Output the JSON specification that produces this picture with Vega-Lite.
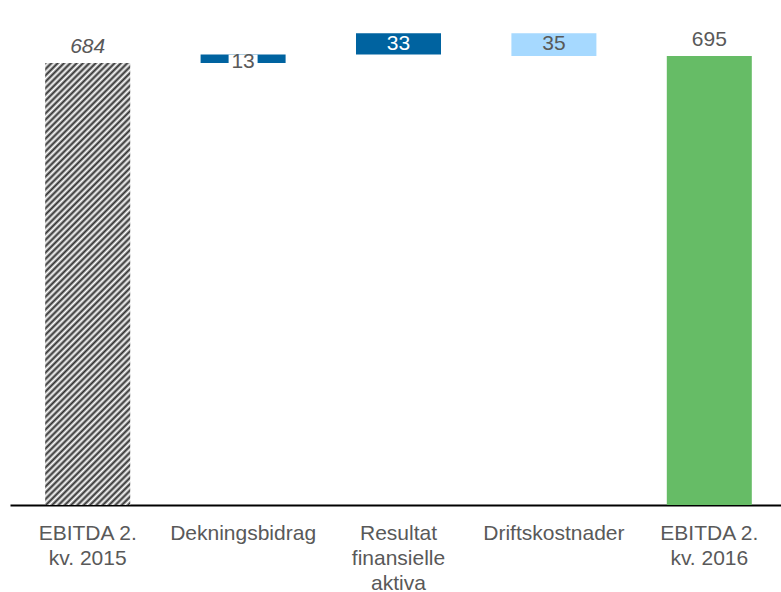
{
  "$schema": "https://vega.github.io/schema/vega-lite/v6.json",
  "width": 771,
  "height": 505,
  "autosize": {"type": "none"},
  "padding": {"left": 10, "top": 0, "right": 0, "bottom": 87},
  "config": {"view": {"stroke": null}, "font": "Liberation Sans"},
  "data": {
    "values": [
      {"step": "EBITDA 2.|kv. 2015", "lo": 0, "hi": 684, "label": "684", "kind": "start"},
      {"step": "Dekningsbidrag", "lo": 684, "hi": 697, "label": "13", "kind": "up"},
      {"step": "Resultat|finansielle|aktiva", "lo": 697, "hi": 730, "label": "33", "kind": "up"},
      {"step": "Driftskostnader", "lo": 695, "hi": 730, "label": "35", "kind": "down"},
      {"step": "EBITDA 2.|kv. 2016", "lo": 0, "hi": 695, "label": "695", "kind": "end"}
    ]
  },
  "encoding": {
    "x": {
      "field": "step",
      "type": "nominal",
      "sort": null,
      "scale": {"range": [0, 777], "paddingInner": 0.453, "paddingOuter": 0.2265},
      "axis": {
        "title": null,
        "labelAngle": 0,
        "labelExpr": "split(datum.label, '|')",
        "labelFont": "Liberation Sans",
        "labelFontSize": 21,
        "labelColor": "#595959",
        "labelLineHeight": 25,
        "labelPadding": 17,
        "labelOverlap": false,
        "labelBound": false,
        "labelLimit": 0,
        "ticks": false,
        "tickSize": 0,
        "grid": false,
        "domainColor": "#000000",
        "domainWidth": 2
      }
    },
    "y": {
      "field": "hi",
      "type": "quantitative",
      "scale": {"domain": [0, 781.5], "nice": false, "zero": true},
      "axis": null
    }
  },
  "layer": [
    {
      "transform": [{"filter": "datum.kind === 'start'"}],
      "mark": {
        "type": "bar",
        "color": {
          "gradient": "linear",
          "x1": 0, "y1": 0, "x2": 0.22111, "y2": 1.14979,
          "stops": [
            {"offset": 0, "color": "#2e2e2e"}, {"offset": 0.006, "color": "#fff"},
            {"offset": 0.012, "color": "#2e2e2e"}, {"offset": 0.018, "color": "#fff"},
            {"offset": 0.024, "color": "#2e2e2e"}, {"offset": 0.03, "color": "#fff"},
            {"offset": 0.036, "color": "#2e2e2e"}, {"offset": 0.042, "color": "#fff"},
            {"offset": 0.048, "color": "#2e2e2e"}, {"offset": 0.054, "color": "#fff"},
            {"offset": 0.06, "color": "#2e2e2e"}, {"offset": 0.066, "color": "#fff"},
            {"offset": 0.072, "color": "#2e2e2e"}, {"offset": 0.078, "color": "#fff"},
            {"offset": 0.084, "color": "#2e2e2e"}, {"offset": 0.09, "color": "#fff"},
            {"offset": 0.096, "color": "#2e2e2e"}, {"offset": 0.102, "color": "#fff"},
            {"offset": 0.108, "color": "#2e2e2e"}, {"offset": 0.114, "color": "#fff"},
            {"offset": 0.12, "color": "#2e2e2e"}, {"offset": 0.126, "color": "#fff"},
            {"offset": 0.132, "color": "#2e2e2e"}, {"offset": 0.138, "color": "#fff"},
            {"offset": 0.144, "color": "#2e2e2e"}, {"offset": 0.15, "color": "#fff"},
            {"offset": 0.156, "color": "#2e2e2e"}, {"offset": 0.162, "color": "#fff"},
            {"offset": 0.168, "color": "#2e2e2e"}, {"offset": 0.174, "color": "#fff"},
            {"offset": 0.18, "color": "#2e2e2e"}, {"offset": 0.186, "color": "#fff"},
            {"offset": 0.192, "color": "#2e2e2e"}, {"offset": 0.198, "color": "#fff"},
            {"offset": 0.204, "color": "#2e2e2e"}, {"offset": 0.21, "color": "#fff"},
            {"offset": 0.216, "color": "#2e2e2e"}, {"offset": 0.222, "color": "#fff"},
            {"offset": 0.228, "color": "#2e2e2e"}, {"offset": 0.234, "color": "#fff"},
            {"offset": 0.24, "color": "#2e2e2e"}, {"offset": 0.246, "color": "#fff"},
            {"offset": 0.252, "color": "#2e2e2e"}, {"offset": 0.258, "color": "#fff"},
            {"offset": 0.264, "color": "#2e2e2e"}, {"offset": 0.27, "color": "#fff"},
            {"offset": 0.276, "color": "#2e2e2e"}, {"offset": 0.282, "color": "#fff"},
            {"offset": 0.288, "color": "#2e2e2e"}, {"offset": 0.294, "color": "#fff"},
            {"offset": 0.3, "color": "#2e2e2e"}, {"offset": 0.306, "color": "#fff"},
            {"offset": 0.312, "color": "#2e2e2e"}, {"offset": 0.318, "color": "#fff"},
            {"offset": 0.324, "color": "#2e2e2e"}, {"offset": 0.33, "color": "#fff"},
            {"offset": 0.336, "color": "#2e2e2e"}, {"offset": 0.342, "color": "#fff"},
            {"offset": 0.348, "color": "#2e2e2e"}, {"offset": 0.354, "color": "#fff"},
            {"offset": 0.36, "color": "#2e2e2e"}, {"offset": 0.366, "color": "#fff"},
            {"offset": 0.372, "color": "#2e2e2e"}, {"offset": 0.378, "color": "#fff"},
            {"offset": 0.384, "color": "#2e2e2e"}, {"offset": 0.39, "color": "#fff"},
            {"offset": 0.396, "color": "#2e2e2e"}, {"offset": 0.402, "color": "#fff"},
            {"offset": 0.408, "color": "#2e2e2e"}, {"offset": 0.414, "color": "#fff"},
            {"offset": 0.42, "color": "#2e2e2e"}, {"offset": 0.426, "color": "#fff"},
            {"offset": 0.432, "color": "#2e2e2e"}, {"offset": 0.438, "color": "#fff"},
            {"offset": 0.444, "color": "#2e2e2e"}, {"offset": 0.45, "color": "#fff"},
            {"offset": 0.456, "color": "#2e2e2e"}, {"offset": 0.462, "color": "#fff"},
            {"offset": 0.468, "color": "#2e2e2e"}, {"offset": 0.474, "color": "#fff"},
            {"offset": 0.48, "color": "#2e2e2e"}, {"offset": 0.486, "color": "#fff"},
            {"offset": 0.492, "color": "#2e2e2e"}, {"offset": 0.498, "color": "#fff"},
            {"offset": 0.504, "color": "#2e2e2e"}, {"offset": 0.51, "color": "#fff"},
            {"offset": 0.516, "color": "#2e2e2e"}, {"offset": 0.522, "color": "#fff"},
            {"offset": 0.528, "color": "#2e2e2e"}, {"offset": 0.534, "color": "#fff"},
            {"offset": 0.54, "color": "#2e2e2e"}, {"offset": 0.546, "color": "#fff"},
            {"offset": 0.552, "color": "#2e2e2e"}, {"offset": 0.558, "color": "#fff"},
            {"offset": 0.564, "color": "#2e2e2e"}, {"offset": 0.57, "color": "#fff"},
            {"offset": 0.576, "color": "#2e2e2e"}, {"offset": 0.582, "color": "#fff"},
            {"offset": 0.588, "color": "#2e2e2e"}, {"offset": 0.594, "color": "#fff"},
            {"offset": 0.6, "color": "#2e2e2e"}, {"offset": 0.606, "color": "#fff"},
            {"offset": 0.612, "color": "#2e2e2e"}, {"offset": 0.618, "color": "#fff"},
            {"offset": 0.624, "color": "#2e2e2e"}, {"offset": 0.63, "color": "#fff"},
            {"offset": 0.636, "color": "#2e2e2e"}, {"offset": 0.642, "color": "#fff"},
            {"offset": 0.648, "color": "#2e2e2e"}, {"offset": 0.654, "color": "#fff"},
            {"offset": 0.66, "color": "#2e2e2e"}, {"offset": 0.666, "color": "#fff"},
            {"offset": 0.672, "color": "#2e2e2e"}, {"offset": 0.678, "color": "#fff"},
            {"offset": 0.684, "color": "#2e2e2e"}, {"offset": 0.69, "color": "#fff"},
            {"offset": 0.696, "color": "#2e2e2e"}, {"offset": 0.702, "color": "#fff"},
            {"offset": 0.708, "color": "#2e2e2e"}, {"offset": 0.714, "color": "#fff"},
            {"offset": 0.72, "color": "#2e2e2e"}, {"offset": 0.726, "color": "#fff"},
            {"offset": 0.732, "color": "#2e2e2e"}, {"offset": 0.738, "color": "#fff"},
            {"offset": 0.744, "color": "#2e2e2e"}, {"offset": 0.75, "color": "#fff"},
            {"offset": 0.756, "color": "#2e2e2e"}, {"offset": 0.762, "color": "#fff"},
            {"offset": 0.768, "color": "#2e2e2e"}, {"offset": 0.774, "color": "#fff"},
            {"offset": 0.78, "color": "#2e2e2e"}, {"offset": 0.786, "color": "#fff"},
            {"offset": 0.792, "color": "#2e2e2e"}, {"offset": 0.798, "color": "#fff"},
            {"offset": 0.804, "color": "#2e2e2e"}, {"offset": 0.81, "color": "#fff"},
            {"offset": 0.816, "color": "#2e2e2e"}, {"offset": 0.822, "color": "#fff"},
            {"offset": 0.828, "color": "#2e2e2e"}, {"offset": 0.834, "color": "#fff"},
            {"offset": 0.84, "color": "#2e2e2e"}, {"offset": 0.846, "color": "#fff"},
            {"offset": 0.852, "color": "#2e2e2e"}, {"offset": 0.858, "color": "#fff"},
            {"offset": 0.864, "color": "#2e2e2e"}, {"offset": 0.87, "color": "#fff"},
            {"offset": 0.876, "color": "#2e2e2e"}, {"offset": 0.882, "color": "#fff"},
            {"offset": 0.888, "color": "#2e2e2e"}, {"offset": 0.894, "color": "#fff"},
            {"offset": 0.9, "color": "#2e2e2e"}, {"offset": 0.906, "color": "#fff"},
            {"offset": 0.912, "color": "#2e2e2e"}, {"offset": 0.918, "color": "#fff"},
            {"offset": 0.924, "color": "#2e2e2e"}, {"offset": 0.93, "color": "#fff"},
            {"offset": 0.936, "color": "#2e2e2e"}, {"offset": 0.942, "color": "#fff"},
            {"offset": 0.948, "color": "#2e2e2e"}, {"offset": 0.954, "color": "#fff"},
            {"offset": 0.96, "color": "#2e2e2e"}, {"offset": 0.966, "color": "#fff"},
            {"offset": 0.972, "color": "#2e2e2e"}, {"offset": 0.978, "color": "#fff"},
            {"offset": 0.984, "color": "#2e2e2e"}, {"offset": 0.99, "color": "#fff"},
            {"offset": 0.996, "color": "#2e2e2e"}, {"offset": 1, "color": "#fff"}
          ]
        }
      },
      "encoding": {"y2": {"field": "lo"}}
    },
    {
      "transform": [{"filter": "datum.kind !== 'start'"}],
      "mark": {"type": "bar"},
      "encoding": {
        "y2": {"field": "lo"},
        "color": {
          "field": "kind",
          "type": "nominal",
          "scale": {"domain": ["up", "down", "end"], "range": ["#0063A0", "#A6D9FF", "#66BC66"]},
          "legend": null
        }
      }
    },
    {
      "transform": [{"filter": "datum.label === '13'"}],
      "mark": {"type": "bar", "color": "#ffffff", "width": 29},
      "encoding": {"y2": {"field": "lo"}}
    },
    {
      "transform": [{"filter": "datum.kind === 'start'"}],
      "mark": {"type": "text", "baseline": "alphabetic", "dy": -10, "fontSize": 21, "fontStyle": "italic", "color": "#595959", "font": "Liberation Sans"},
      "encoding": {"text": {"field": "label"}}
    },
    {
      "transform": [{"filter": "datum.kind === 'end'"}],
      "mark": {"type": "text", "baseline": "alphabetic", "dy": -10, "fontSize": 21, "color": "#595959", "font": "Liberation Sans"},
      "encoding": {"text": {"field": "label"}}
    },
    {
      "transform": [{"filter": "datum.label === '13'"}],
      "mark": {"type": "text", "baseline": "alphabetic", "dy": 13, "fontSize": 21, "color": "#595959", "font": "Liberation Sans"},
      "encoding": {"text": {"field": "label"}}
    },
    {
      "transform": [{"filter": "datum.label === '33' || datum.label === '35'"}],
      "mark": {"type": "text", "baseline": "alphabetic", "dy": 17, "fontSize": 21, "font": "Liberation Sans"},
      "encoding": {
        "text": {"field": "label"},
        "color": {"condition": {"test": "datum.label === '33'", "value": "#ffffff"}, "value": "#595959"}
      }
    }
  ]
}
